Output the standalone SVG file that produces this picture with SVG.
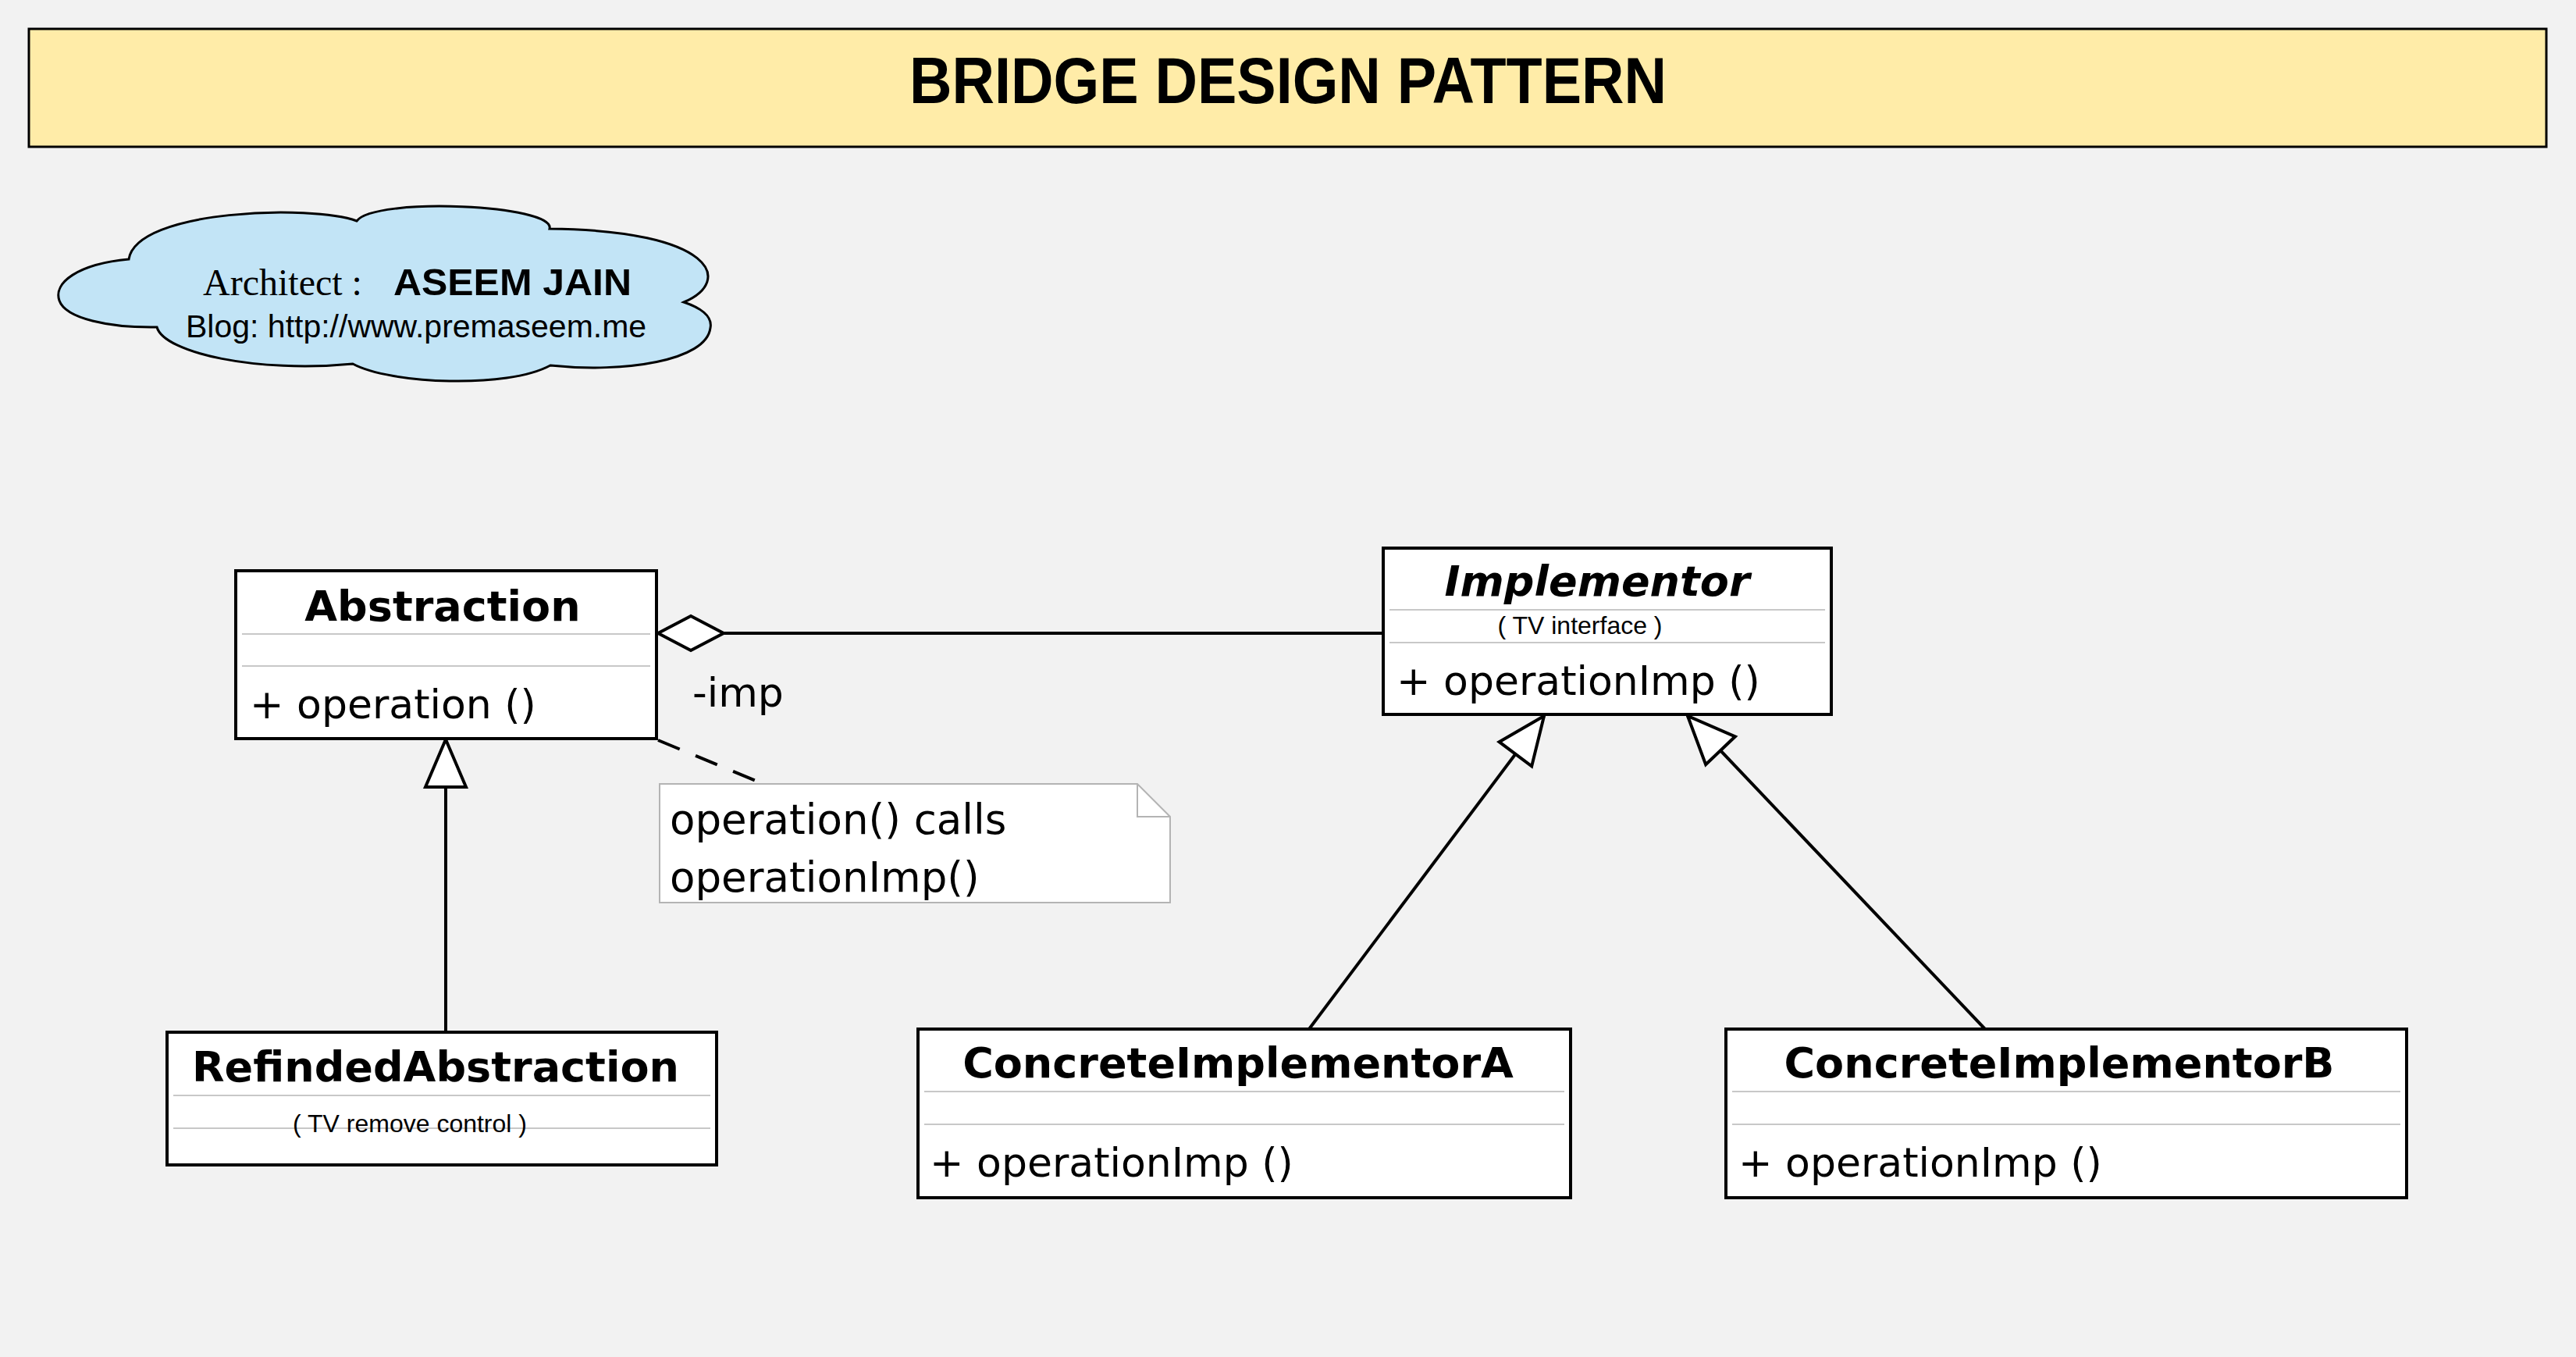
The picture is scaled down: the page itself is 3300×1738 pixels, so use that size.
<svg xmlns="http://www.w3.org/2000/svg" width="3300" height="1738" viewBox="0 0 3300 1738">
<style>
.box{fill:#ffffff;stroke:#000000;stroke-width:4}
.sep{stroke:#c8c8c8;stroke-width:2}
.title{font-family:"DejaVu Sans",sans-serif;font-weight:bold;font-size:54px;fill:#000;text-anchor:middle}
.op{font-family:"DejaVu Sans",sans-serif;font-size:52px;fill:#000}
.sub{font-family:"Liberation Sans",Arial,sans-serif;font-size:32px;fill:#000;text-anchor:middle}
.conn{stroke:#000;stroke-width:4;fill:none}
</style>
<defs>
<marker id="diamond" markerUnits="userSpaceOnUse" viewBox="-88 -26 92 52" markerWidth="92" markerHeight="52" refX="0" refY="0" orient="auto" overflow="visible">
<path d="M0,0 L-42,-22 L-84,0 L-42,22 Z" fill="#fff" stroke="#000" stroke-width="4"/>
</marker>
<marker id="tri" markerUnits="userSpaceOnUse" viewBox="-66 -32 70 64" markerWidth="70" markerHeight="64" refX="0" refY="0" orient="auto" overflow="visible">
<path d="M0,0 L-61,-26 L-61,26 Z" fill="#fff" stroke="#000" stroke-width="4"/>
</marker>
</defs>
<rect x="0" y="0" width="3300" height="1738" fill="#f2f2f2"/>

<g id="title">
<rect x="37" y="37" width="3225" height="151" fill="#ffeca8" stroke="#000" stroke-width="3"/>
<text x="1650" y="132" font-family="Liberation Sans, Arial, sans-serif" font-weight="bold" font-size="84" text-anchor="middle" textLength="970" lengthAdjust="spacingAndGlyphs">BRIDGE DESIGN PATTERN</text>
</g>

<g id="cloud">
<path d="M165,332 C100,338 68,362 76,385 C84,408 140,420 201,419 C210,452 330,478 452,466 C500,492 650,498 705,468 C800,478 905,462 910,420 C913,405 897,394 876,387 C940,360 915,295 704,293 C712,262 480,252 457,283 C400,262 175,268 165,332 Z" fill="#c2e4f6" stroke="#000" stroke-width="3"/>
<text x="260" y="378" font-family="Liberation Serif, Times New Roman, serif" font-size="48">Architect :</text>
<text x="504" y="378" font-family="Liberation Sans, Arial, sans-serif" font-weight="bold" font-size="48" textLength="305" lengthAdjust="spacingAndGlyphs">ASEEM JAIN</text>
<text x="238" y="432" font-family="Liberation Sans, Arial, sans-serif" font-size="41">Blog: http://www.premaseem.me</text>
</g>

<g id="connectors">
<line class="conn" x1="1772" y1="811" x2="843" y2="811" marker-end="url(#diamond)"/>
<line class="conn" x1="571" y1="1322" x2="571" y2="947" marker-end="url(#tri)"/>
<line class="conn" x1="1677" y1="1318" x2="1978" y2="917" marker-end="url(#tri)"/>
<line class="conn" x1="2543" y1="1318" x2="2162" y2="917" marker-end="url(#tri)"/>
<line class="conn" x1="843" y1="948" x2="978" y2="1004" stroke-dasharray="30 22"/>
<text x="887" y="905" font-family="DejaVu Sans, sans-serif" font-size="52">-imp</text>
</g>

<g id="abstraction">
<rect class="box" x="302" y="731" width="539" height="215"/>
<line class="sep" x1="310" y1="812" x2="833" y2="812"/>
<line class="sep" x1="310" y1="853" x2="833" y2="853"/>
<text class="title" x="567" y="795">Abstraction</text>
<text class="op" x="320" y="920">+ operation ()</text>
</g>

<g id="implementor">
<rect class="box" x="1772" y="702" width="574" height="213"/>
<line class="sep" x1="1780" y1="781" x2="2338" y2="781"/>
<line class="sep" x1="1780" y1="823" x2="2338" y2="823"/>
<text class="title" x="2046" y="763" font-style="italic">Implementor</text>
<text class="sub" x="2024" y="812">( TV interface )</text>
<text class="op" x="1789" y="890">+ operationImp ()</text>
</g>

<g id="note">
<path d="M845,1004 L1457,1004 L1499,1046 L1499,1156 L845,1156 Z" fill="#fff" stroke="#b4b4b4" stroke-width="2"/>
<path d="M1457,1004 L1457,1046 L1499,1046" fill="none" stroke="#b4b4b4" stroke-width="2"/>
<text x="858" y="1068" font-family="DejaVu Sans, sans-serif" font-size="53">operation() calls</text>
<text x="858" y="1142" font-family="DejaVu Sans, sans-serif" font-size="53">operationImp()</text>
</g>

<g id="refinedAbstraction">
<rect class="box" x="214" y="1322" width="704" height="170"/>
<line class="sep" x1="222" y1="1403" x2="910" y2="1403"/>
<line class="sep" x1="222" y1="1445" x2="910" y2="1445"/>
<text class="title" x="558" y="1385">RefindedAbstraction</text>
<text class="sub" x="525" y="1450">( TV remove control )</text>
</g>

<g id="concreteA">
<rect class="box" x="1176" y="1318" width="836" height="216"/>
<line class="sep" x1="1184" y1="1398" x2="2004" y2="1398"/>
<line class="sep" x1="1184" y1="1440" x2="2004" y2="1440"/>
<text class="title" x="1586" y="1380">ConcreteImplementorA</text>
<text class="op" x="1191" y="1507">+ operationImp ()</text>
</g>

<g id="concreteB">
<rect class="box" x="2211" y="1318" width="872" height="216"/>
<line class="sep" x1="2219" y1="1398" x2="3075" y2="1398"/>
<line class="sep" x1="2219" y1="1440" x2="3075" y2="1440"/>
<text class="title" x="2638" y="1380">ConcreteImplementorB</text>
<text class="op" x="2227" y="1507">+ operationImp ()</text>
</g>
</svg>
